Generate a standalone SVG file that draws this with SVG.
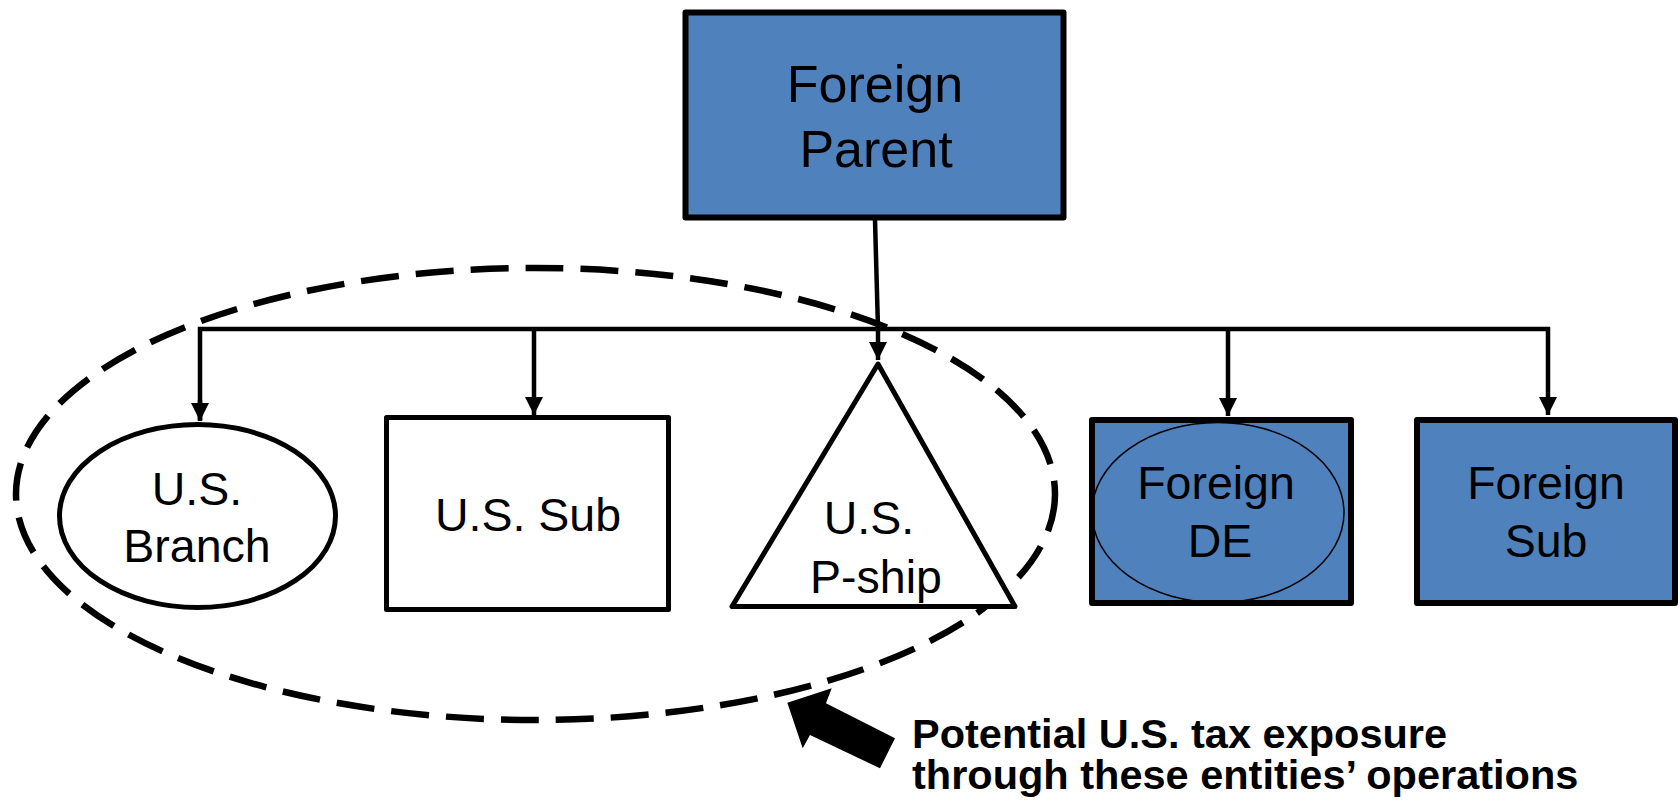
<svg xmlns="http://www.w3.org/2000/svg" width="1680" height="807" viewBox="0 0 1680 807">
<style>
text{font-family:"Liberation Sans",Arial,sans-serif;fill:#000;text-anchor:middle}
.lbl{font-size:46.5px}
.big{font-size:52px}
.note{font-size:41.5px;font-weight:bold;text-anchor:start}
.blue{fill:#4F81BD;stroke:#000;stroke-width:6;stroke-linejoin:round}
.white{fill:#fff;stroke:#000;stroke-width:5;stroke-linejoin:round}
.conn{fill:none;stroke:#000;stroke-width:4.5}
</style>
<defs>
<marker id="ah" markerUnits="userSpaceOnUse" markerWidth="20" markerHeight="20" viewBox="0 0 20 20" refX="18" refY="10" orient="auto">
<path d="M0,1 L18,10 L0,19 Z" fill="#000"/>
</marker>
</defs>
<g id="boundary">
<ellipse cx="535.5" cy="494" rx="519.5" ry="226" fill="none" stroke="#000" stroke-width="6.5" stroke-dasharray="38 17"/>
</g>
<g id="connectors">
<line class="conn" x1="875" y1="220" x2="878" y2="329"/>
<polyline class="conn" points="200,420 200,329 1548,329 1548,415" marker-end="url(#ah)"/>
<line class="conn" x1="200" y1="400" x2="200" y2="421" marker-end="url(#ah)"/>
<line class="conn" x1="534" y1="331" x2="534" y2="415" marker-end="url(#ah)"/>
<line class="conn" x1="878" y1="329" x2="878" y2="360" marker-end="url(#ah)"/>
<line class="conn" x1="1228" y1="329" x2="1228" y2="416" marker-end="url(#ah)"/>
</g>
<g id="foreign-parent">
<rect class="blue" x="685.5" y="12.5" width="378" height="205" stroke-width="5"/>
<text class="big" x="875" y="102">Foreign</text>
<text class="big" x="876" y="167">Parent</text>
</g>
<g id="us-branch">
<ellipse class="white" cx="197.5" cy="516" rx="138" ry="91.5"/>
<text class="lbl" x="197" y="505">U.S.</text>
<text class="lbl" x="197" y="562">Branch</text>
</g>
<g id="us-sub">
<rect class="white" x="386.5" y="417.5" width="282" height="192"/>
<text class="lbl" x="528" y="531">U.S. Sub</text>
</g>
<g id="us-pship">
<polygon class="white" points="878,364 732,606.5 1015,606.5"/>
<text class="lbl" x="869" y="534">U.S.</text>
<text class="lbl" x="876" y="593">P-ship</text>
</g>
<g id="foreign-de">
<rect class="blue" x="1092" y="420" width="259" height="183"/>
<ellipse cx="1218" cy="512.5" rx="126" ry="90" fill="none" stroke="#000" stroke-width="1.5"/>
<text class="lbl" x="1216" y="499">Foreign</text>
<text class="lbl" x="1220" y="557">DE</text>
</g>
<g id="foreign-sub">
<rect class="blue" x="1417" y="420" width="258" height="183"/>
<text class="lbl" x="1546" y="499">Foreign</text>
<text class="lbl" x="1546" y="557">Sub</text>
</g>
<g id="callout">
<polygon points="787.3,702.7 831.7,688.3 826,703.3 895,738.3 880,768.3 810,735 802.7,748.3" fill="#000"/>
<text class="note" x="912" y="748">Potential U.S. tax exposure</text>
<text class="note" x="912" y="789">through these entities’ operations</text>
</g>
</svg>
